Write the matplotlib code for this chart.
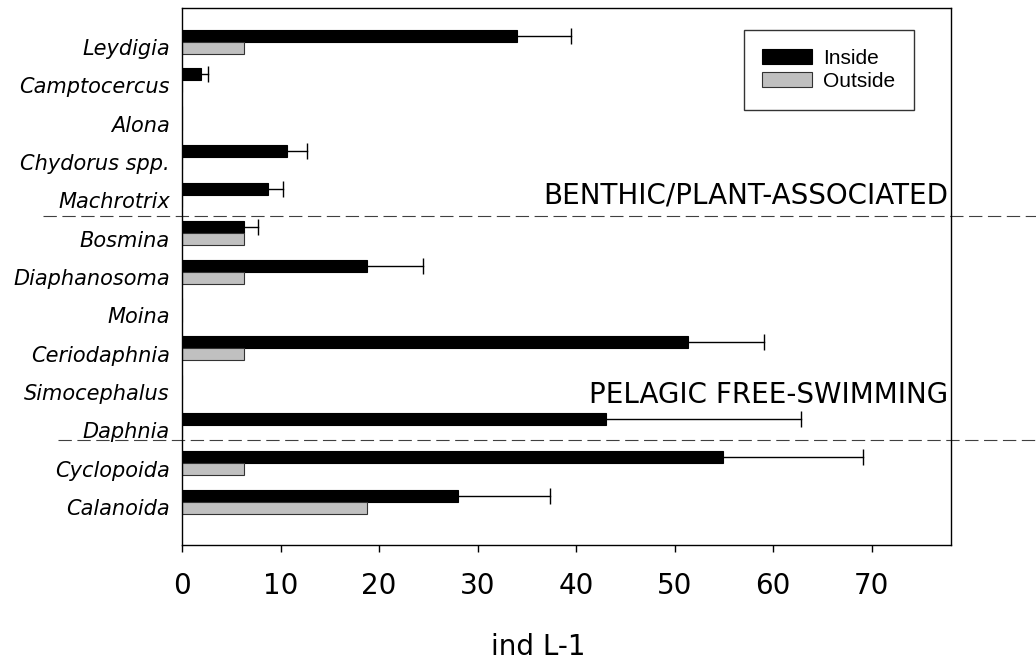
import matplotlib.pyplot as plt
import numpy as np
from matplotlib.lines import Line2D
from matplotlib.transforms import ScaledTranslation, blended_transform_factory

# zooplankton densities (ind L-1), inside vs outside the vegetation
taxa = ['Leydigia', 'Camptocercus', 'Alona', 'Chydorus spp.', 'Machrotrix',
        'Bosmina', 'Diaphanosoma', 'Moina', 'Ceriodaphnia', 'Simocephalus',
        'Daphnia', 'Cyclopoida', 'Calanoida']
inside = [34.0, 1.9, 0, 10.7, 8.7, 6.25, 18.8, 0, 51.4, 0, 43.0, 54.9, 28.0]
inside_se = [5.5, 0.7, 0, 2.0, 1.55, 1.5, 5.7, 0, 7.7, 0, 19.8, 14.2, 9.4]
outside = [6.25, 0, 0, 0, 0, 6.25, 6.25, 0, 6.25, 0, 0, 6.25, 18.75]

groups = ['BENTHIC/PLANT-ASSOCIATED', 'PELAGIC FREE-SWIMMING']

plt.rcParams['font.family'] = 'DejaVu Sans'

fig = plt.figure(figsize=(10.36, 6.64), dpi=100)
ax = fig.add_axes([182 / 1036, 119 / 664, 768.5 / 1036, 536.7 / 664])

y = np.arange(len(taxa))
h = 0.31
ax.barh(y - h / 2, inside, height=h, color='black', edgecolor='black',
        linewidth=0.8, label='Inside')
ax.barh(y + h / 2, outside, height=h, color='#c0c0c0', edgecolor='#333333',
        linewidth=0.8, label='Outside')

# one-sided error bars on the inside bars
ends, ey = [], []
for i in range(len(taxa)):
    if inside_se[i] > 0:
        top = inside[i] + inside_se[i]
        ax.plot([inside[i], top], [y[i] - h / 2] * 2, color='black', lw=1.0)
        ends.append(top)
        ey.append(y[i] - h / 2)
ax.plot(ends, ey, ls='none', marker='|', markersize=11.5, mew=1.0, color='black')

ax.set_xlim(0, 78)
ax.set_ylim(13.13, -0.87)
ax.set_xticks(np.arange(0, 71, 10))
ax.tick_params(axis='x', direction='out', length=5, width=1.0, pad=14.5,
               labelsize=20)
ax.set_yticks([])
for sp in ax.spines.values():
    sp.set_linewidth(1.0)

# taxon names, italic, sitting a little below each bar pair
lab_tr = blended_transform_factory(ax.transAxes, ax.transData) + \
    ScaledTranslation(-12 / 100, -13.3 / 100, fig.dpi_scale_trans)
for i, name in enumerate(taxa):
    ax.text(0, y[i], name, transform=lab_tr, ha='right', va='baseline',
            fontsize=15, fontstyle='italic')

ax.set_xlabel('ind L-1', fontsize=20)
ax.xaxis.set_label_coords((538 - 182) / 768.5, (545 - 655) / 536.7)
ax.xaxis.label.set_va('baseline')

# dashed separators between the two groups, running off to the right edge
line_tr = blended_transform_factory(fig.transFigure, ax.transData)
for x0, yb in [(43 / 1036, 4.56), (58 / 1036, 10.4)]:
    ax.add_line(Line2D([x0, 1], [yb, yb], transform=line_tr, clip_on=False,
                       color='#404040', lw=0.8, dashes=(12, 5)))

ax.text(77.75, 4.214, groups[0], ha='right', va='baseline', fontsize=20,
        clip_on=False)
ax.text(77.75, 9.43, groups[1], ha='right', va='baseline', fontsize=20,
        clip_on=False)

leg = ax.legend(loc='upper left', bbox_to_anchor=((743.7 - 182) / 768.5, 1 - (30 - 8.3) / 536.7),
                frameon=True, fancybox=False, shadow=False, borderpad=0.9,
                handlelength=2.36, handleheight=0.77, handletextpad=0.56,
                labelspacing=0.2, borderaxespad=0,
                prop={'family': 'Liberation Sans', 'size': 15})
leg.get_frame().set_edgecolor('black')
leg.get_frame().set_linewidth(1.0)

fig.savefig('out.png', dpi=100)
